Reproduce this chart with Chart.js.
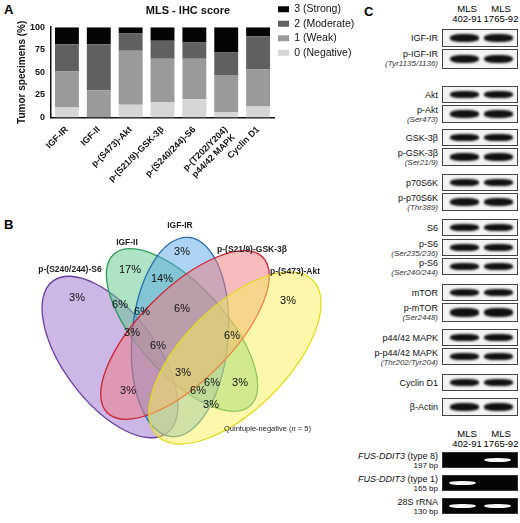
<!DOCTYPE html>
<html><head><meta charset="utf-8">
<script src="https://cdn.jsdelivr.net/npm/chart.js@4"></script>
<style>
body{margin:0;width:520px;height:523px;background:#fff;font-family:Arial,"Liberation Sans",sans-serif;position:relative;overflow:hidden}
#wa{position:absolute;left:0;top:0;width:360px;height:194px}
.pl{position:absolute;font-weight:bold;font-size:13px}
svg{position:absolute;left:0;top:0}
.lab{position:absolute;font-size:9px;text-align:right;right:82px;line-height:9px;color:#111}
.lab i{font-size:8px;color:#333}
.box{position:absolute;left:442px;width:76px;border:1px solid #444;background:#f4f4f4;box-sizing:border-box}
.band{position:absolute;top:26%;height:48%;border-radius:40%;background:#111;filter:blur(0.8px)}
.gel{position:absolute;left:442px;width:76px;background:#050505;box-sizing:border-box;border:1px solid #333}
.gband{position:absolute;top:35%;height:30%;border-radius:45%;background:#f8f8f8;filter:blur(0.6px)}
.hdr{position:absolute;font-size:9.5px;text-align:center;line-height:10px;width:40px}
</style></head><body>
<div class="pl" style="left:4px;top:2px">A</div>
<div id="wa"><canvas id="c"></canvas></div>
<div class="pl" style="left:4px;top:217px">B</div>
<div class="pl" style="left:364px;top:4px">C</div>
<svg id="v" width="355" height="523"></svg>
<div id="blots"></div>
<script>
// ---- Panel A data ----
const categories = ["IGF-IR","IGF-II","p-(S473)-Akt","p-(S21/9)-GSK-3β","p-(S240/244)-S6",["p-(T202/Y204)","p44/42 MAPK"],"Cyclin D1"];
const negative = [11, 0, 14, 17, 20, 6, 12];
const weak     = [40, 30, 60, 48, 45, 41, 41];
const moderate = [30, 51, 19, 20, 18, 25, 37];
const strong   = [19, 19, 7, 15, 17, 28, 10];
const yTicks = [0,25,50,75,100];

new Chart(document.getElementById('c'),{
  type:'bar',
  data:{labels:categories,datasets:[
    {label:'0 (Negative)',data:negative,backgroundColor:'#d6d6d6'},
    {label:'1 (Weak)',data:weak,backgroundColor:'#9a9a9a'},
    {label:'2 (Moderate)',data:moderate,backgroundColor:'#606060'},
    {label:'3 (Strong)',data:strong,backgroundColor:'#050505'}
  ]},
  options:{responsive:true,maintainAspectRatio:false,animation:false,
    layout:{padding:{top:0,left:16,right:0,bottom:0}},
    datasets:{bar:{barPercentage:0.75,categoryPercentage:1}},
    plugins:{
      title:{display:true,text:'MLS - IHC score',font:{size:11,weight:'bold',family:'Arial'},color:'#111',padding:{top:4,bottom:10}},
      legend:{position:'right',align:'start',reverse:true,labels:{boxWidth:11,boxHeight:6,padding:4,font:{size:10.5,family:'Arial'},color:'#111'}},
      tooltip:{enabled:false}},
    scales:{
      x:{stacked:true,grid:{display:false,drawTicks:true,tickLength:5,tickColor:'#111'},border:{color:'#111',width:1.5},offset:true,
        ticks:{autoSkip:false,maxRotation:45,minRotation:45,font:{size:9,weight:'bold',family:'Arial'},color:'#111',padding:2}},
      y:{stacked:true,min:0,max:100,afterBuildTicks:a=>{a.ticks=yTicks.map(v=>({value:v}))},
        grid:{display:false,drawTicks:true,tickLength:4,tickColor:'#111'},border:{color:'#111',width:1.5},
        ticks:{font:{size:9,weight:'bold',family:'Arial'},color:'#111',padding:2},
        title:{display:true,text:'Tumor specimens (%)',font:{size:10,weight:'bold',family:'Arial'},color:'#111',padding:0}}
    }}
});

// ---- Panel B (Venn) ----
const vennSets = ["p-(S240/244)-S6","IGF-II","IGF-IR","p-(S21/9)-GSK-3β","p-(S473)-Akt"];
const pVals=["3%","17%","14%","3%","6%","6%","6%","3%","6%","3%","6%","3%","6%","6%","3%","3%","3%"];
const V=document.getElementById('v');
const ells=[[110,357,95,46,53,'#9b6fd0','#6b3fa0'],[182,330,102,44,48,'#5ec88a','#2e9a5a'],[180,337,100,48,95,'#5aa7e8','#2a6fb0'],[185,335,110,46,135,'#f27a80','#d02030'],[235,358,110,52,135,'#f7f25a','#e2db20']];
let s='';
ells.forEach(e=>{s+=`<ellipse cx="${e[0]}" cy="${e[1]}" rx="${e[2]}" ry="${e[3]}" transform="rotate(${e[4]} ${e[0]} ${e[1]})" fill="${e[5]}" fill-opacity="0.5" stroke="${e[6]}" stroke-width="1.3"/>`});
const setPos=[[70,272],[127,245],[180,228],[252,252],[295,274]];
vennSets.forEach((t,i)=>{s+=`<text x="${setPos[i][0]}" y="${setPos[i][1]}" font-size="8.5" font-weight="bold" text-anchor="middle" fill="#222">${t}</text>`});
const pPos=[[77,297],[130,269],[162,278],[182,251],[120,304],[142,311],[182,308],[132,332],[158,345],[288,300],[232,335],[183,372],[212,382],[198,390],[240,382],[128,390],[211,404]];
pPos.forEach((p,i)=>{s+=`<text x="${p[0]}" y="${p[1]+4}" font-size="11" text-anchor="middle" fill="#111">${pVals[i]}</text>`});
s+=`<text x="224" y="431" font-size="7.5" fill="#222">Quintuple-negative (<tspan font-style="italic">n</tspan> = 5)</text>`;
V.innerHTML=s;

// ---- Panel C (blots) ----
const blotLabels=[["IGF-IR",""],["p-IGF-IR","Tyr1135/1136"],["Akt",""],["p-Akt","Ser473"],["GSK-3β",""],["p-GSK-3β","Ser21/9"],["p70S6K",""],["p-p70S6K","Thr389"],["S6",""],["p-S6","Ser235/236"],["p-S6","Ser240/244"],["mTOR",""],["p-mTOR","Ser2448"],["p44/42 MAPK",""],["p-p44/42 MAPK","Thr202/Tyr204"],["Cyclin D1",""],["β-Actin",""]];
const blotTops=[29,49,86,105,129,148,174,193,219,239,258,284,303,329,348,374,398];
const blotH=[18,20,17,18,17,18,17,18,17,17,17,17,19,17,17,17,18];
const gelLabels=[["FUS-DDIT3"," (type 8)","197 bp"],["FUS-DDIT3"," (type 1)","165 bp"],["28S rRNA","","130 bp"]];
const gelTops=[452,475,498];
const gelBands=[[0,1],[1,0],[1,1]];
let h='';
function hdr(y){h+=`<div class="hdr" style="left:447px;top:${y}px">MLS<br>402-91</div><div class="hdr" style="left:481px;top:${y}px">MLS<br>1765-92</div>`}
hdr(4);
blotLabels.forEach((l,i)=>{
  const t=blotTops[i],hh=blotH[i];
  h+=`<div class="box" style="top:${t}px;height:${hh}px"><div class="band" style="left:10%;width:38%"></div><div class="band" style="left:56%;width:38%"></div></div>`;
  h+= l[1]? `<div class="lab" style="top:${t+1}px">${l[0]}<br><i>(${l[1]})</i></div>` : `<div class="lab" style="top:${t+hh/2-4}px">${l[0]}</div>`;
});
hdr(429);
gelLabels.forEach((l,i)=>{
  const t=gelTops[i];
  h+=`<div class="gel" style="top:${t}px;height:16px">${gelBands[i][0]?'<div class="gband" style="left:8%;width:36%"></div>':''}${gelBands[i][1]?'<div class="gband" style="left:56%;width:36%"></div>':''}</div>`;
  const nm=i<2?`<i style="font-size:9px;color:#111">${l[0]}</i>${l[1]}`:l[0];
  h+=`<div class="lab" style="top:${t}px">${nm}<br><span style="font-size:8px">${l[2]}</span></div>`;
});
document.getElementById('blots').innerHTML=h;
</script>
</body></html>
